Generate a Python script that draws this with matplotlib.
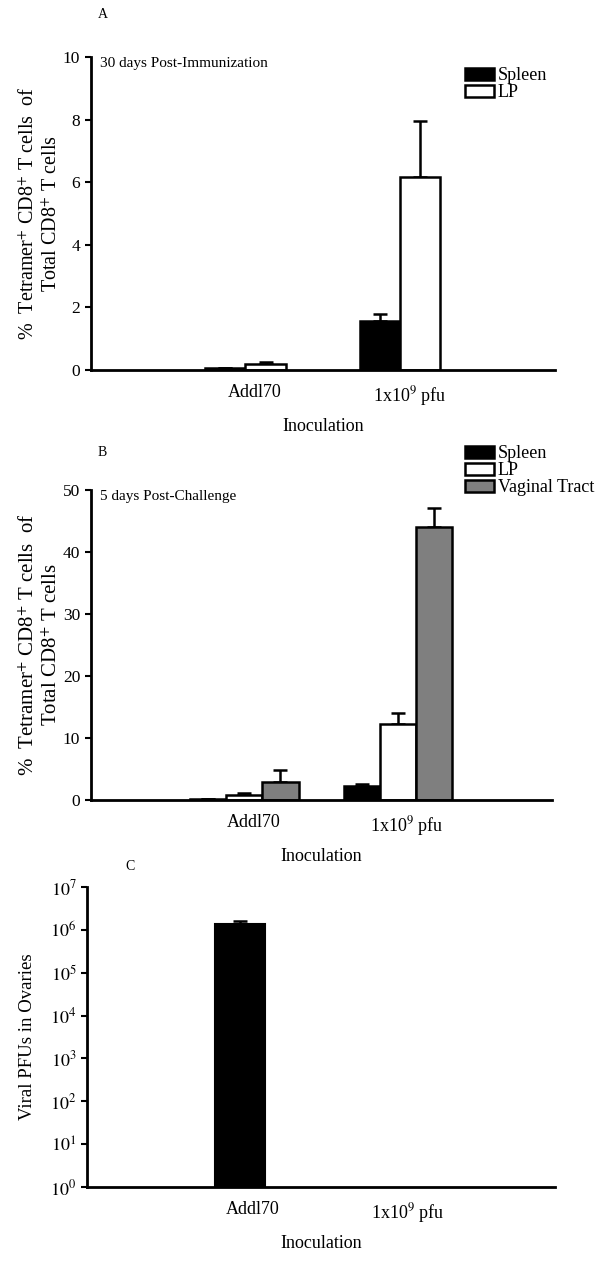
import matplotlib
matplotlib.use("Agg")
import matplotlib.pyplot as plt
import numpy as np

plt.rcParams["font.family"] = ["Liberation Serif", "DejaVu Serif"]
plt.rcParams["mathtext.fontset"] = "stix"

groups = ["Addl70", r"1x10$^{9}$ pfu"]

# panel A: 30 days post-immunization
a_spleen = [0.05, 1.55]
a_spleen_err = [0.02, 0.25]
a_lp = [0.2, 6.15]
a_lp_err = [0.05, 1.8]

# panel B: 5 days post-challenge
b_spleen = [0.1, 2.3]
b_spleen_err = [0.0, 0.3]
b_lp = [0.8, 12.2]
b_lp_err = [0.3, 1.8]
b_vagina = [3.0, 44.0]
b_vagina_err = [1.8, 3.2]

# panel C: viral PFUs in ovaries
c_pfu = [1.4e6, 0.0]
c_pfu_err = [0.25e6, 0.0]

ylabel_cd8 = "%  Tetramer$^{+}$ CD8$^{+}$ T cells  of\nTotal CD8$^{+}$ T cells"
fills = {"Spleen": "black", "LP": "white", "Vaginal Tract": "#7f7f7f"}


def style_axis(ax):
    for side in ("top", "right"):
        ax.spines[side].set_visible(False)
    for side in ("left", "bottom"):
        ax.spines[side].set_linewidth(2.0)
    ax.tick_params(axis="y", direction="out", length=4, width=1.5, labelsize=12.5)
    ax.tick_params(axis="x", length=0, labelsize=13, pad=10)
    ax.set_xlim(0, 3)
    ax.set_xticks([1.06, 2.06])
    ax.set_xticklabels(groups)
    ax.set_xlabel("Inoculation", fontsize=13, labelpad=7)


def draw_bars(ax, series, width):
    x = np.array([1.0, 2.0])
    n = len(series)
    for i, (name, vals, errs) in enumerate(series):
        pos = x + (i - (n - 1) / 2) * width
        ax.bar(pos, vals, width, color=fills[name], edgecolor="black",
               linewidth=1.8, label=name, zorder=2)
        ax.errorbar(pos, vals, yerr=[np.zeros(len(errs)), errs], fmt="none",
                    ecolor="black", elinewidth=1.8, capsize=5, capthick=1.8, zorder=1)


def add_legend(ax, top_px):
    ax.legend(loc="upper left", bbox_to_anchor=(456 / 613, 1 - top_px / 1270),
              bbox_transform=fig.transFigure, frameon=False, fontsize=13,
              handlelength=1.6, handleheight=0.65, labelspacing=0.0,
              handletextpad=0.2, borderpad=0)


fig = plt.figure(figsize=(6.13, 12.7), dpi=100)

ax_a = fig.add_axes([0.148, 0.7087, 0.757, 0.2465])
draw_bars(ax_a, [("Spleen", a_spleen, a_spleen_err), ("LP", a_lp, a_lp_err)], 0.26)
style_axis(ax_a)
ax_a.set_ylim(0, 10)
ax_a.set_yticks([0, 2, 4, 6, 8, 10])
ax_a.set_ylabel(ylabel_cd8, fontsize=14.5, labelpad=1, linespacing=1.2)
ax_a.text(0.02, 1.0, "30 days Post-Immunization", transform=ax_a.transAxes,
          fontsize=11, va="top")
add_legend(ax_a, 58)
fig.text(98 / 613, 1 - 15 / 1270, "A", fontsize=10, va="center")

ax_b = fig.add_axes([0.148, 0.370, 0.752, 0.244])
draw_bars(ax_b, [("Spleen", b_spleen, b_spleen_err), ("LP", b_lp, b_lp_err),
                 ("Vaginal Tract", b_vagina, b_vagina_err)], 0.235)
style_axis(ax_b)
ax_b.set_ylim(0, 50)
ax_b.set_yticks([0, 10, 20, 30, 40, 50])
ax_b.set_ylabel(ylabel_cd8, fontsize=15, labelpad=1, linespacing=1.2)
ax_b.text(0.02, 1.0, "5 days Post-Challenge", transform=ax_b.transAxes,
          fontsize=11, va="top")
add_legend(ax_b, 436)
fig.text(98 / 613, 1 - 452 / 1270, "B", fontsize=10, va="center")

ax_c = fig.add_axes([0.142, 0.0654, 0.763, 0.2362])
ax_c.set_yscale("log")
xc = np.array([0.98, 2.0])
ax_c.bar(xc, c_pfu, 0.32, color="black", edgecolor="black", linewidth=1.5, zorder=2)
for xv, v, e in zip(xc, c_pfu, c_pfu_err):
    if v > 0:
        ax_c.errorbar([xv], [v], yerr=[[0], [e]], fmt="none", ecolor="black",
                      elinewidth=1.8, capsize=5, capthick=1.8, zorder=1)
style_axis(ax_c)
ax_c.set_ylim(1, 1e7)
ax_c.set_yticks([10.0 ** k for k in range(8)])
ax_c.set_yticklabels([f"$10^{{{k}}}$" for k in range(8)], fontsize=13)
ax_c.minorticks_off()
ax_c.set_ylabel("Viral PFUs in Ovaries", fontsize=13.5, labelpad=10)
fig.text(125 / 613, 1 - 867 / 1270, "C", fontsize=10, va="center")

fig.savefig("out.png", dpi=100)
